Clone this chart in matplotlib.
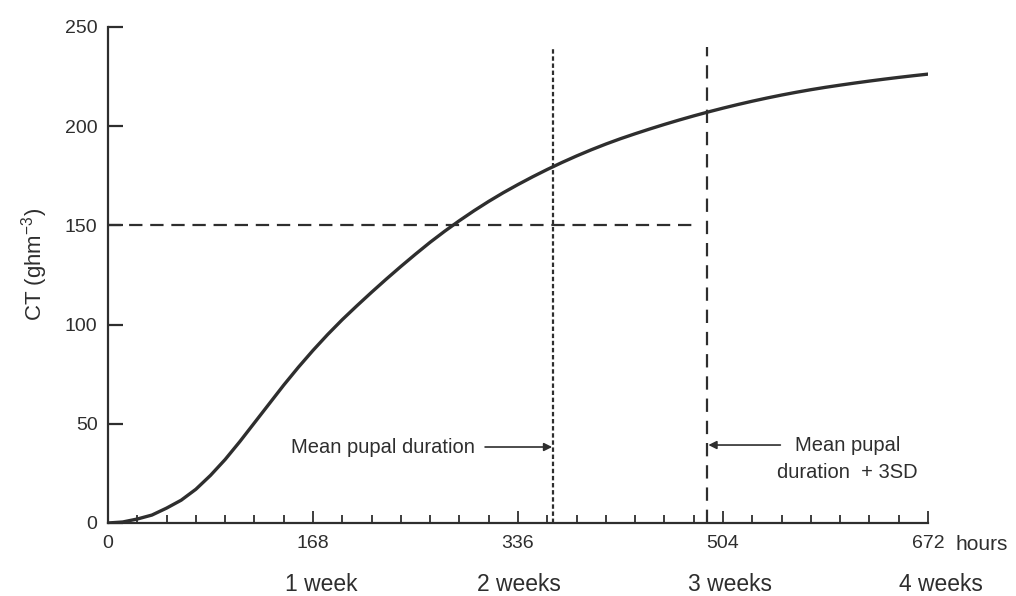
import matplotlib.pyplot as plt
import matplotlib.transforms as mtransforms
from matplotlib.ticker import MultipleLocator

plt.rcParams['font.family'] = ['Liberation Sans', 'DejaVu Sans']

# CT accumulated over time, every 12 h
hours = list(range(0, 673, 12))
ct = [0, 0.5, 2, 4, 7.5, 11.5, 17, 24, 32, 41, 50.5, 60, 69.5, 78.5, 87,
      95, 102.5, 109.5, 116.3, 122.9, 129.3, 135.5, 141.5, 147.1, 152.4,
      157.4, 162.1, 166.5, 170.6, 174.5, 178.2, 181.7, 185.0, 188.1, 191.0,
      193.7, 196.2, 198.6, 200.9, 203.1, 205.2, 207.2, 209.1, 210.9, 212.6,
      214.2, 215.7, 217.1, 218.4, 219.6, 220.7, 221.75, 222.75, 223.7,
      224.6, 225.45, 226.25]

hour_ticks = [0, 168, 336, 504, 672]
week_labels = ['1 week', '2 weeks', '3 weeks', '4 weeks']
mean_pupal = 365      # hours
mean_pupal_3sd = 491  # hours
ct_threshold = 150
threshold_end = 483
vline_top = 240

ink = '#2e2e2e'

fig = plt.figure(figsize=(10.16, 5.96), dpi=100)
ax = fig.add_axes([0.1063, 0.1225, 0.8071, 0.8322])

ax.plot(hours, ct, color=ink, lw=2.4, solid_capstyle='round',
        solid_joinstyle='round')
ax.plot([0, threshold_end], [ct_threshold, ct_threshold], color=ink, lw=1.6,
        dashes=(6, 3.5))
ax.plot([mean_pupal, mean_pupal], [0, vline_top], color=ink, lw=1.6,
        dashes=(2, 1.2))
ax.plot([mean_pupal_3sd, mean_pupal_3sd], [0, vline_top], color=ink, lw=1.6,
        dashes=(6, 4))

ax.set_xlim(0, 672)
ax.set_ylim(0, 250)
for s in ['top', 'right']:
    ax.spines[s].set_visible(False)
for s in ['left', 'bottom']:
    ax.spines[s].set_linewidth(1.6)
    ax.spines[s].set_color(ink)

ax.set_xticks(hour_ticks)
ax.xaxis.set_minor_locator(MultipleLocator(24))
ax.yaxis.set_major_locator(MultipleLocator(50))
ax.tick_params(axis='x', which='major', direction='in', length=9, width=1.3,
               color=ink, labelsize=14, labelcolor=ink, pad=8.5)
ax.tick_params(axis='x', which='minor', direction='in', length=6, width=1.3,
               color=ink)
ax.tick_params(axis='y', direction='in', length=11, width=1.6, color=ink,
               labelsize=14, labelcolor=ink, pad=7.5)

# "hours" unit after the last tick label
xtrans = mtransforms.blended_transform_factory(ax.transData, ax.transAxes)
ax.text(672, 0, 'hours', transform=xtrans + mtransforms.ScaledTranslation(
        27 / 100, -12 / 100, fig.dpi_scale_trans), ha='left', va='top',
        fontsize=15, color=ink)

trans = mtransforms.blended_transform_factory(ax.transData, fig.transFigure)
week_shift = [7, 1, 6, 11]
for x, d, w in zip(hour_ticks[1:], week_shift, week_labels):
    ax.text(x + d, 0.008, w, transform=trans, ha='center', va='baseline',
            fontsize=16.5, color=ink)

fig.text(35 / 1016, 1 - 264 / 596, 'CT (ghm$^{\\mathregular{-3}}$)',
         rotation=90, ha='center', va='center', fontsize=16, color=ink)

ax.annotate('', xy=(mean_pupal - 1, 38.3), xytext=(309, 38.3),
            arrowprops=dict(arrowstyle='-|>', color=ink, lw=1.2,
                            mutation_scale=12, shrinkA=0, shrinkB=0))
ax.text(301, 38.3, 'Mean pupal duration', ha='right', va='center',
        fontsize=14.5, color=ink)

ax.annotate('', xy=(mean_pupal_3sd + 1, 39.3), xytext=(551, 39.3),
            arrowprops=dict(arrowstyle='-|>', color=ink, lw=1.2,
                            mutation_scale=12, shrinkA=0, shrinkB=0))
ax.text(606, 39.3, 'Mean pupal', ha='center', va='center', fontsize=14.5,
        color=ink)
ax.text(606, 25.7, 'duration  + 3SD', ha='center', va='center',
        fontsize=14.5, color=ink)

fig.savefig('out.png', dpi=100)
